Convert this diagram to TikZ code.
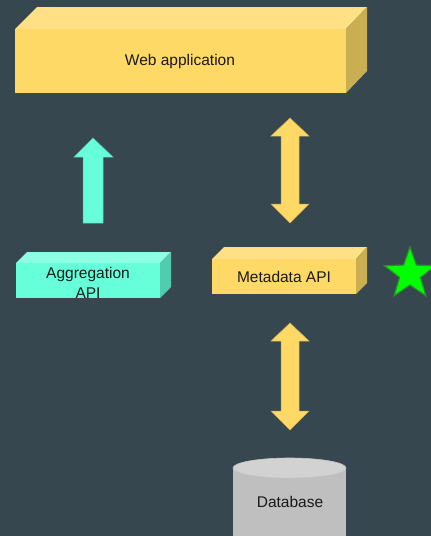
\documentclass[tikz,border=0pt]{standalone}
\usepackage{fontspec}
\setmainfont{Liberation Sans}
\usetikzlibrary{shapes.geometric}
\definecolor{bg}{HTML}{37474F}
\definecolor{yfront}{HTML}{FFD966}
\definecolor{ytop}{HTML}{FFE085}
\definecolor{yside}{HTML}{C9AE52}
\definecolor{cfront}{HTML}{66FFDA}
\definecolor{ctop}{HTML}{8CFFE2}
\definecolor{cside}{HTML}{52CCAE}
\definecolor{dbside}{HTML}{BFBFBF}
\definecolor{dbtop}{HTML}{D2D2D2}
\definecolor{starg}{HTML}{00FF00}
\definecolor{stardark}{HTML}{2E8B2E}
\tikzset{
  lbl/.style={font=\fontsize{15.5}{20}\selectfont, text=black!90, align=center, inner sep=0pt},
  yarrow/.style={fill=yfront, draw=yside, line width=0.5pt},
  carrow/.style={fill=cfront, draw=cside, line width=0.5pt},
}
\begin{document}
\begin{tikzpicture}[x=1pt,y=-1pt]
\fill[bg] (0,0) rectangle (431,536);
\useasboundingbox (0,0) rectangle (431,536);
\clip (0,0) rectangle (431,536);
% Web application box
\fill[ytop] (15,29) -- (37,7) -- (367,7) -- (346,29) -- cycle;
\fill[yside] (346,29) -- (367,7) -- (367,71) -- (346,93) -- cycle;
\fill[yfront] (15,29) rectangle (346,93);
\node[lbl] (web) at (180,61.5) {Web application};
% Aggregation API box
\fill[ctop] (16,263) -- (27,252) -- (171,252) -- (160,263) -- cycle;
\fill[cside] (160,263) -- (171,252) -- (171,287) -- (160,298) -- cycle;
\fill[cfront] (16,263) rectangle (160,298);
\begin{scope}
\clip (16,240) rectangle (160,298);
\node[lbl] (agg) at (88,283) {Aggregation\\API};
\end{scope}
% Metadata API box
\fill[ytop] (212,259) -- (224,247) -- (367,247) -- (356,259) -- cycle;
\fill[yside] (356,259) -- (367,247) -- (367,283) -- (356,294) -- cycle;
\fill[yfront] (212,259) rectangle (356,294);
\node[lbl] (meta) at (284,277) {Metadata API};
% star
\node[star, star points=5, star point ratio=2.45, minimum size=54pt, inner sep=0pt,
      fill=starg, draw=stardark, line width=1.2pt] (star) at (410,274) {};
% Database cylinder
\fill[dbside] (233,468) -- (233,536) -- (346,536) -- (346,468) -- cycle;
\fill[dbtop, draw=dbside!90!white, line width=0.6pt] (289.5,468) ellipse [x radius=56.5, y radius=10];
\node[lbl] (db) at (290,502) {Database};
% cyan up arrow
\path[carrow] (83,223) -- (83,157) -- (74,157) -- (93,138) -- (113,157) -- (103,157) -- (103,223) -- cycle;
% yellow double arrow 1
\path[yarrow] (281,136) -- (271,136) -- (290,118) -- (309,136) -- (299,136) -- (299,204)
  -- (309,204) -- (290,223) -- (271,204) -- (281,204) -- cycle;
% yellow double arrow 2
\path[yarrow] (281,341) -- (271,341) -- (290,323) -- (309,341) -- (299,341) -- (299,411)
  -- (309,411) -- (290,430) -- (271,411) -- (281,411) -- cycle;
\end{tikzpicture}
\end{document}
